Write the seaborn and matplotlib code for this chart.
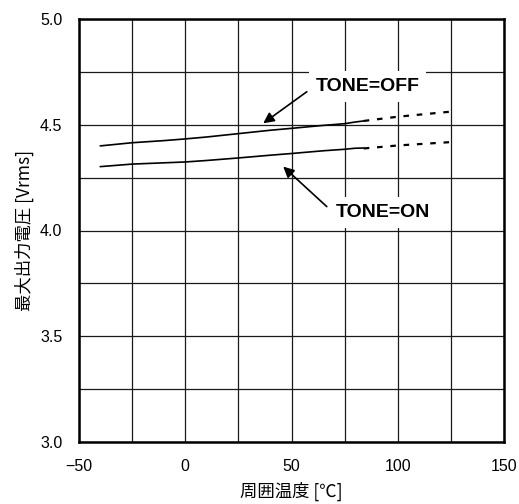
import matplotlib
matplotlib.use("Agg")
import matplotlib.pyplot as plt
import seaborn as sns
import pandas as pd

# Data
temp_solid = [-40, -25, -10, 0, 10, 25, 40, 50, 65, 75, 80, 84]
off_solid = [4.400, 4.415, 4.425, 4.433, 4.442, 4.458, 4.474, 4.483, 4.497, 4.505, 4.513, 4.518]
on_solid = [4.302, 4.314, 4.320, 4.324, 4.331, 4.343, 4.356, 4.364, 4.377, 4.384, 4.389, 4.390]
temp_dash = [84, 100, 125]
off_dash = [4.518, 4.538, 4.562]
on_dash = [4.388, 4.402, 4.418]

x_ticks = [-50, 0, 50, 100, 150]
y_ticks = [3.0, 3.5, 4.0, 4.5, 5.0]
x_label = "周囲温度 [℃]"
y_label = "最大出力電圧 [Vrms]"

sns.set_theme(style="white")
plt.rcParams['font.family'] = ['Noto Sans CJK JP', 'DejaVu Sans']
plt.rcParams['text.color'] = 'black'

fig = plt.figure(figsize=(5.19, 5.04), dpi=100)
ax = fig.add_axes([79/519, 1-442/504, (504-79)/519, (442-19)/504])

solid = pd.DataFrame({
    "temp": temp_solid * 2,
    "v": off_solid + on_solid,
    "series": ["OFF"] * len(temp_solid) + ["ON"] * len(temp_solid),
})
dash = pd.DataFrame({
    "temp": temp_dash * 2,
    "v": off_dash + on_dash,
    "series": ["OFF"] * len(temp_dash) + ["ON"] * len(temp_dash),
})

sns.lineplot(data=solid, x="temp", y="v", units="series", estimator=None,
             color="black", lw=1.2, ax=ax, zorder=3)
sns.lineplot(data=dash, x="temp", y="v", units="series", estimator=None,
             color="black", lw=1.6, ax=ax, zorder=3, dashes=False)
for l in ax.lines[-2:]:
    l.set_dashes((2.5, 3.5))

ax.set_xlim(-50, 150)
ax.set_ylim(3.0, 5.0)
ax.set_xticks(x_ticks)
ax.set_yticks(y_ticks)
ax.set_xticks([-25, 25, 75, 125], minor=True)
ax.set_yticks([3.25, 3.75, 4.25, 4.75], minor=True)
ax.grid(True, which="both", color="#1a1a1a", lw=0.9)
ax.set_axisbelow(True)
ax.tick_params(which="both", length=0, labelsize=11.5, pad=12, colors="black")
ax.set_xticklabels([f"{t}".replace("-", "\u2212") for t in x_ticks], family=["Liberation Sans"])
ax.set_yticklabels([f"{t:.1f}" for t in y_ticks], family=["Liberation Sans"])
ax.set_xlabel(x_label, fontsize=12.5, labelpad=6, color="black")
ax.set_ylabel(y_label, fontsize=12.5, labelpad=4, color="black")
for s in ax.spines.values():
    s.set_color("black")
    s.set_linewidth(1.8)

bbox = dict(boxstyle="square,pad=0.35", fc="white", ec="none")
ax.text(85.8, 4.68, "TONE=OFF", ha="center", va="center", fontsize=14,
        fontweight="bold", family=["Liberation Sans"], color="black",
        bbox=bbox, zorder=5)
ax.text(92.8, 4.086, "TONE=ON", ha="center", va="center", fontsize=14,
        fontweight="bold", family=["Liberation Sans"], color="black",
        bbox=bbox, zorder=5)
arrow = dict(arrowstyle="-|>", color="black", lw=1.2, mutation_scale=16,
             shrinkA=0, shrinkB=0)
ax.annotate("", xy=(36.7, 4.507), xytext=(57.2, 4.656), arrowprops=arrow, zorder=6)
ax.annotate("", xy=(46.1, 4.302), xytext=(66.6, 4.113), arrowprops=arrow, zorder=6)

fig.savefig("out.png", dpi=100)
